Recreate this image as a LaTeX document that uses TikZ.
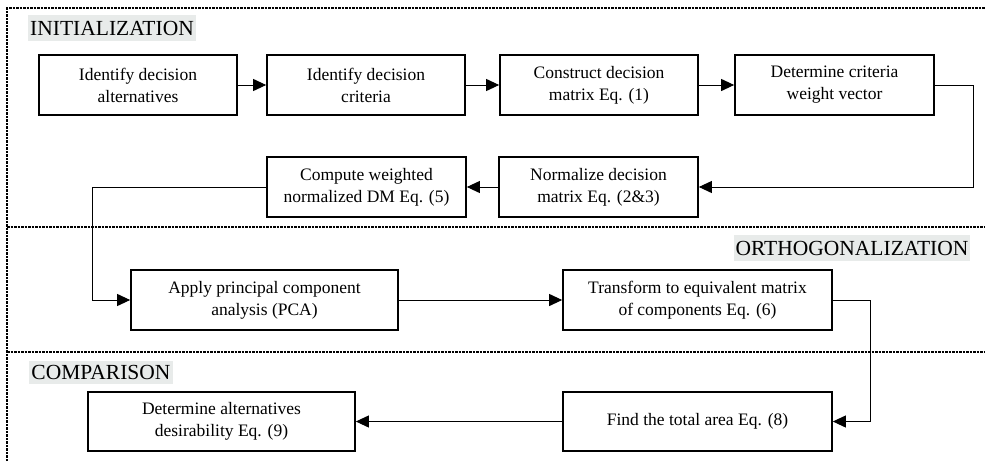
\documentclass[tikz,border=0pt]{standalone}
\usepackage{fontspec}
\setmainfont{Liberation Serif}
\usetikzlibrary{arrows.meta}
\definecolor{hdgray}{RGB}{232,235,234}
\tikzset{
  stepbox/.style={draw=black, line width=1.7pt, fill=white, align=center, inner sep=0pt,
    minimum height=60pt, font=\fontsize{17.5}{22}\selectfont},
  arr/.style={line width=1pt, -{Triangle[length=13pt,width=12pt]}},
  frame/.style={line width=1.1pt, dash pattern=on 2.5pt off 1pt},
  hdr/.style={fill=hdgray, inner xsep=2pt, inner ysep=0pt, minimum height=26pt,
    font=\fontsize{21.5}{25}\selectfont}
}
\begin{document}
\begin{tikzpicture}[x=1pt,y=-1pt]
\useasboundingbox (0,0) rectangle (985,461);
% frame
\coordinate (ftl) at (7,8);
\coordinate (fbl) at (7,461);
\coordinate (ftr) at (985,8);
\draw[frame] (fbl) -- (ftl) -- (ftr);
\coordinate (d1l) at (7,227); \coordinate (d1r) at (985,227);
\coordinate (d2l) at (7,352); \coordinate (d2r) at (985,352);
\draw[frame] (d1l) -- (d1r);
\draw[frame] (d2l) -- (d2r);
% headers
\node[hdr] (h1) at (112,28) {INITIALIZATION};
\node[hdr] (h2) at (852,248) {ORTHOGONALIZATION};
\node[hdr, minimum height=23pt] (h3) at (101,372) {COMPARISON};
% boxes
\node[stepbox, minimum width=198pt] (b1) at (138,85) {Identify decision\\alternatives};
\node[stepbox, minimum width=198pt] (b2) at (366,85) {Identify decision\\criteria};
\node[stepbox, minimum width=198pt] (b3) at (599,85) {Construct decision\\matrix Eq. (1)};
\node[stepbox, minimum width=199pt] (b4) at (834.5,85) {Determine criteria\\weight vector};
\node[stepbox, minimum width=199pt] (b5) at (598.5,187) {Normalize decision\\matrix Eq. (2\&3)};
\node[stepbox, minimum width=199pt] (b6) at (366.5,187) {Compute weighted\\normalized DM Eq. (5)};
\node[stepbox, minimum width=267pt] (b7) at (264.5,300) {Apply principal component\\analysis (PCA)};
\node[stepbox, minimum width=269pt] (b8) at (697.5,300) {Transform to equivalent matrix\\of components Eq. (6)};
\node[stepbox, minimum width=269pt, minimum height=59pt] (b9) at (697.5,421.5) {Find the total area Eq. (8)};
\node[stepbox, minimum width=267pt, minimum height=59pt] (b10) at (221.5,421.5) {Determine alternatives\\desirability Eq. (9)};
% connectors
\draw[arr] (b1) -- (b2);
\draw[arr] (b2) -- (b3);
\draw[arr] (b3) -- (b4);
\coordinate (c1) at (973,85);
\draw[arr] (b4.east) -- (c1) |- (b5.east);
\draw[arr] (b5) -- (b6);
\coordinate (c2) at (92,187);
\draw[arr] (b6.west) -- (c2) |- (b7.west);
\draw[arr] (b7) -- (b8);
\coordinate (c3) at (870,300);
\draw[arr] (b8.east) -- (c3) |- (b9.east);
\draw[arr] (b9) -- (b10);
\end{tikzpicture}
\end{document}
